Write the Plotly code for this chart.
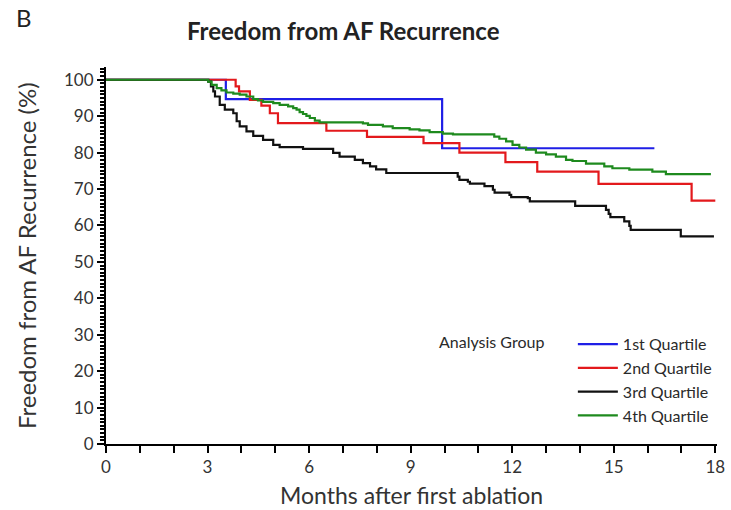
import plotly.graph_objects as go

# ---- data (months, % free from AF recurrence) ----
q1_t = [0, 3.54, 9.93, 16.2]
q1_s = [100, 94.7, 81.2, 81.2]

q2_t = [0, 3.83, 3.93, 4.25, 4.59, 4.84, 5.08, 6.51, 7.71, 9.38, 10.44, 11.8, 12.74, 14.55, 17.3, 18.0]
q2_s = [100, 98.2, 96.8, 94.5, 92.9, 90.8, 88.1, 86.0, 84.3, 82.6, 80.0, 77.4, 74.8, 71.4, 66.8, 66.8]

q3_t = [0, 3.02, 3.10, 3.17, 3.22, 3.36, 3.51, 3.76, 3.86, 3.95, 4.15, 4.35, 4.64, 4.94, 5.13,
        5.82, 6.71, 6.90, 7.35, 7.59, 7.80, 7.98, 8.28, 10.39, 10.44, 10.69, 10.75, 11.18, 11.43,
        11.48, 11.92, 11.97, 12.46, 12.52, 13.86, 14.77, 14.85, 14.90, 15.31, 15.46, 15.50, 16.98, 17.96]
q3_s = [100, 99.5, 98.2, 96.8, 95.4, 93.1, 91.8, 90.8, 88.6, 87.2, 85.8, 84.6, 83.5, 82.1, 81.5,
        81.0, 79.9, 78.9, 78.0, 77.1, 76.2, 75.4, 74.4, 73.4, 72.5, 72.0, 71.5, 70.8, 69.8,
        69.0, 68.4, 67.8, 67.5, 66.6, 65.4, 64.3, 63.2, 62.3, 61.1, 59.9, 58.8, 57.0, 57.0]

q4_t = [0, 3.02, 3.12, 3.27, 3.41, 3.56, 3.76, 3.95, 4.15, 4.35, 4.49, 4.64, 4.94, 5.13, 5.38,
        5.53, 5.63, 5.72, 5.82, 5.92, 6.02, 6.17, 6.31, 7.59, 7.74, 8.18, 8.47, 8.97, 9.26, 9.56,
        9.95, 10.25, 11.47, 11.62, 11.82, 12.01, 12.21, 12.41, 12.70, 13.0, 13.29, 13.59, 13.78,
        14.18, 14.72, 14.96, 15.46, 16.14, 16.54, 17.87]
q4_s = [100, 99.5, 98.6, 97.7, 97.1, 96.5, 96.2, 95.9, 95.4, 94.7, 94.3, 93.9, 93.6, 93.1, 92.7,
        92.2, 91.8, 91.1, 90.6, 90.1, 89.5, 88.8, 88.3, 88.0, 87.6, 87.2, 86.7, 86.4, 86.1, 85.6,
        85.2, 85.0, 84.4, 83.8, 83.1, 82.1, 81.4, 80.8, 80.0, 79.5, 78.9, 78.0, 77.7,
        77.0, 76.2, 75.7, 75.3, 74.8, 74.1, 74.1]

series_names = ["1st Quartile", "2nd Quartile", "3rd Quartile", "4th Quartile"]
series_colors = ["#1f1fe6", "#e3191c", "#111111", "#1e8a1e"]
x_ticks = [0, 3, 6, 9, 12, 15, 18]
y_ticks = [0, 10, 20, 30, 40, 50, 60, 70, 80, 90, 100]

FONT = "Lato, 'Open Sans', sans-serif"

fig = go.Figure()
for t, s, name, col in zip([q1_t, q2_t, q3_t, q4_t], [q1_s, q2_s, q3_s, q4_s], series_names, series_colors):
    fig.add_trace(go.Scatter(x=t, y=s, mode="lines", name=name,
                             line=dict(color=col, width=2.2, shape="hv")))

# plot area: x 106..716, y 67..444 (px)
fig.update_layout(
    width=731, height=510,
    margin=dict(l=106, r=14, t=67, b=66, autoexpand=False),
    paper_bgcolor="white", plot_bgcolor="white",
    font=dict(family=FONT, color="#222222", size=16),
    showlegend=True,
    legend=dict(
        x=1.0, xanchor="right", y=0.31, yanchor="top",
        bgcolor="rgba(0,0,0,0)",
        font=dict(size=16, color="#2a2a2a"),
        title=dict(text="Analysis Group     ", side="left", font=dict(size=16, color="#2a2a2a")),
        tracegroupgap=0, itemwidth=40,
    ),
    xaxis=dict(
        range=[0, 18.05], tickvals=x_ticks, ticktext=[str(v) for v in x_ticks],
        showgrid=False, zeroline=False, automargin=False,
        showline=True, linecolor="black", linewidth=2,
        ticks="outside", ticklen=7, tickwidth=2, tickcolor="black",
        tickfont=dict(size=17, color="#333333"),
        minor=dict(dtick=1, tick0=0, ticks="outside", ticklen=7, tickwidth=2, tickcolor="black", showgrid=False),
    ),
    yaxis=dict(
        range=[0, 103.5], tickvals=y_ticks, ticktext=[str(v) for v in y_ticks],
        showgrid=False, zeroline=False, automargin=False,
        showline=True, linecolor="black", linewidth=2,
        ticks="outside", ticklen=7, tickwidth=2, tickcolor="black",
        tickfont=dict(size=17, color="#333333"),
        minor=dict(dtick=1, tick0=0, ticks="outside", ticklen=4, tickwidth=1.5, tickcolor="black", showgrid=False),
    ),
    annotations=[
        dict(text="B", xref="paper", yref="paper", x=-0.15, y=1.13, xanchor="left", yanchor="middle",
             showarrow=False, font=dict(size=24, color="#222222")),
        dict(text="<b>Freedom from AF Recurrence</b>", xref="paper", yref="paper", x=0.389, y=1.098,
             xanchor="center", yanchor="middle", showarrow=False, font=dict(size=24, color="#222222")),
        dict(text="Months after first ablation", xref="paper", yref="paper", x=0.5, y=-0.135,
             xanchor="center", yanchor="middle", showarrow=False, font=dict(size=23, color="#333333")),
        dict(text="Freedom from AF Recurrence (%)", xref="paper", yref="paper", x=-0.13, y=0.5,
             xanchor="center", yanchor="middle", textangle=-90, showarrow=False,
             font=dict(size=24, color="#333333")),
    ],
)

fig.write_html("out.html")
